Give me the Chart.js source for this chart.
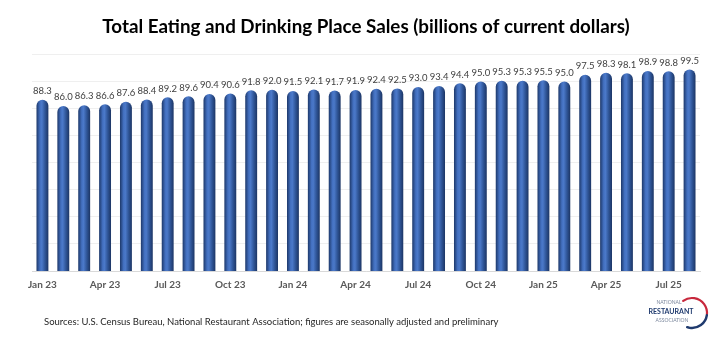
<!DOCTYPE html>
<html lang="en">
<head>
<meta charset="UTF-8">
<title>Total Eating and Drinking Place Sales</title>
<script src="https://cdn.jsdelivr.net/npm/chart.js"></script>
<style>
  html, body { margin: 0; padding: 0; background: #fff; }
  #wrap { width: 727px; height: 337px; position: relative; }
</style>
</head>
<body>
<div id="wrap"><canvas id="salesChart"></canvas></div>
<script>
// monthly labels, Jan 23 .. Aug 25
var months = ["Jan 23","Feb 23","Mar 23","Apr 23","May 23","Jun 23","Jul 23","Aug 23","Sep 23","Oct 23","Nov 23","Dec 23",
              "Jan 24","Feb 24","Mar 24","Apr 24","May 24","Jun 24","Jul 24","Aug 24","Sep 24","Oct 24","Nov 24","Dec 24",
              "Jan 25","Feb 25","Mar 25","Apr 25","May 25","Jun 25","Jul 25","Aug 25"];
var sales = [88.3, 86.0, 86.3, 86.6, 87.6, 88.4, 89.2, 89.6, 90.4, 90.6, 91.8, 92.0,
             91.5, 92.1, 91.7, 91.9, 92.4, 92.5, 93.0, 93.4, 94.4, 95.0, 95.3, 95.3,
             95.5, 95.0, 97.5, 98.3, 98.1, 98.9, 98.8, 99.5];
var gridValues = [25, 35, 45, 55, 65, 75, 85, 95, 105];
var sourceText = "Sources: U.S. Census Bureau, National Restaurant Association; figures are seasonally adjusted and preliminary";

var FONT = "Lato, 'Open Sans', sans-serif";
var BAR_FRAC = 0.6 * 0.95;

// cylinder look: horizontal gradient per bar
function barFill(c) {
    var chart = c.chart, xs = chart.scales.x;
    if (!chart.chartArea || !xs) return '#2f5597';
    var cx = xs.getPixelForValue(c.dataIndex);
    var w = xs.width / months.length * BAR_FRAC;
    var g = chart.ctx.createLinearGradient(cx - w / 2, 0, cx + w / 2, 0);
    g.addColorStop(0, '#1d386a');
    g.addColorStop(0.3, '#4370c0');
    g.addColorStop(0.45, '#4b79c9');
    g.addColorStop(0.72, '#2f5597');
    g.addColorStop(1, '#1c3564');
    return g;
}

// value labels above bars
var valueLabels = {
    id: 'valueLabels',
    afterDatasetsDraw: function(chart) {
        var ctx = chart.ctx;
        ctx.save();
        ctx.font = "9.5px " + FONT;
        ctx.fillStyle = '#404040';
        ctx.textAlign = 'center';
        ctx.textBaseline = 'bottom';
        chart.getDatasetMeta(0).data.forEach(function(bar, i) {
            ctx.fillText(sales[i].toFixed(1), bar.x, bar.y - 4);
        });
        ctx.restore();
    }
};

// source line and logo
var footer = {
    id: 'footer',
    afterDraw: function(chart) {
        var ctx = chart.ctx;
        ctx.save();
        ctx.font = "9.5px " + FONT;
        ctx.fillStyle = '#262626';
        ctx.textBaseline = 'middle';
        ctx.textAlign = 'left';
        ctx.fillText(sourceText, 44, 322);

        // logo
        ctx.lineCap = 'round';
        ctx.strokeStyle = '#c8283c';
        ctx.lineWidth = 2.2;
        ctx.beginPath();
        ctx.arc(692, 313, 15, -2.2, 0.1);
        ctx.stroke();
        ctx.strokeStyle = '#1f3a6e';
        ctx.lineWidth = 2.4;
        ctx.beginPath();
        ctx.arc(692, 313, 15, 0.15, 1.9);
        ctx.stroke();
        ctx.textAlign = 'center';
        ctx.fillStyle = '#7a869c';
        ctx.font = "5px " + FONT;
        ctx.fillText("NATIONAL", 669, 302);
        ctx.fillText("ASSOCIATION", 672, 320);
        ctx.fillStyle = '#1f3a6e';
        ctx.font = "bold 7px " + FONT;
        ctx.fillText("RESTAURANT", 671, 311.5);
        ctx.restore();
    }
};

new Chart(document.getElementById('salesChart'), {
    type: 'bar',
    data: {
        labels: months,
        datasets: [{
            data: sales,
            backgroundColor: barFill,
            borderRadius: { topLeft: 6, topRight: 6, bottomLeft: 0, bottomRight: 0 },
            borderSkipped: 'bottom',
            barPercentage: 0.6,
            categoryPercentage: 0.95
        }]
    },
    options: {
        responsive: true,
        maintainAspectRatio: false,
        animation: false,
        layout: { padding: { left: 32, right: 27, top: 0, bottom: 46 } },
        plugins: {
            legend: { display: false },
            tooltip: { enabled: false },
            title: {
                display: true,
                text: 'Total Eating and Drinking Place Sales (billions of current dollars)',
                color: '#000',
                font: { family: FONT, size: 18.8, weight: 'bold' },
                padding: { top: 16, bottom: 16 }
            }
        },
        scales: {
            x: {
                grid: { display: false },
                border: { color: '#d9d9d9' },
                ticks: {
                    autoSkip: false,
                    maxRotation: 0,
                    padding: 0,
                    color: '#595959',
                    font: { family: FONT, size: 10, weight: 'bold' },
                    callback: function(v, i) { return i % 3 === 0 ? months[i] : ''; }
                }
            },
            y: {
                min: 25,
                max: 105,
                afterBuildTicks: function(scale) {
                    scale.ticks = gridValues.map(function(v) { return { value: v }; });
                },
                grid: { color: '#efefef', drawTicks: false },
                border: { display: false },
                ticks: { display: false }
            }
        }
    },
    plugins: [valueLabels, footer]
});
</script>
</body>
</html>
